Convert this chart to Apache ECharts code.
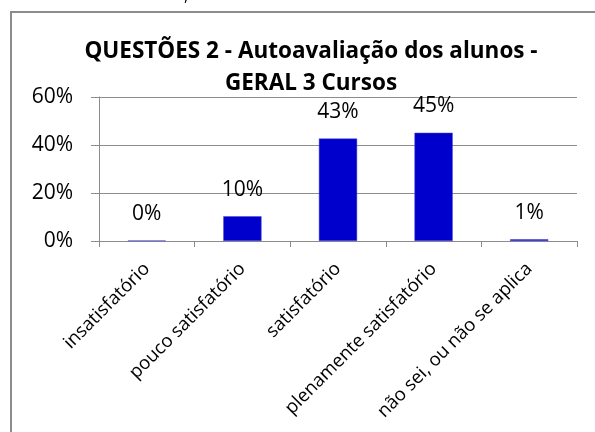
<!DOCTYPE html>
<html>
<head>
<meta charset="utf-8">
<script src="https://cdn.jsdelivr.net/npm/echarts@6/dist/echarts.min.js"></script>
<style>
  html, body { margin: 0; padding: 0; background: #fff; }
  #chart { width: 595px; height: 432px; }
</style>
</head>
<body>
<div id="chart"></div>
<script>
const categories = [
  'insatisfatório',
  'pouco satisfatório',
  'satisfatório',
  'plenamente satisfatório',
  'não sei, ou não se aplica',
]
const shares = [0.002, 0.103, 0.427, 0.451, 0.007]
const yTicks = [0, 0.2, 0.4, 0.6]

const FONT = '"Open Sans", "DejaVu Sans", sans-serif'
const GREY = '#8c8c8c'

const pct = (v) => Math.round(v * 100) + '%'

const chart = echarts.init(document.getElementById('chart'), null, { renderer: 'canvas' })

chart.setOption({
  backgroundColor: '#fff',
  animation: false,
  title: {
    text: 'QUESTÕES 2 - Autoavaliação dos alunos -\nGERAL 3 Cursos',
    left: 306,
    top: 31,
    textAlign: 'center',
    textStyle: {
      fontFamily: FONT,
      fontWeight: 'bold',
      fontSize: 22.5,
      lineHeight: 32,
      color: '#000',
    },
  },
  graphic: [
    {
      type: 'rect',
      shape: { x: 11, y: 12, width: 600, height: 440 },
      style: { fill: 'none', stroke: GREY, lineWidth: 2 },
      silent: true,
    },
    {
      type: 'text',
      left: 184,
      top: -12,
      style: { text: ',', fontSize: 16, fontFamily: FONT, fill: '#000' },
      silent: true,
    },
  ],
  grid: { left: 99, right: 18, top: 97, bottom: 191 },
  xAxis: {
    type: 'category',
    data: categories,
    axisLine: { lineStyle: { color: GREY, width: 1 } },
    axisTick: { show: true, length: 6, lineStyle: { color: GREY } },
    axisLabel: {
      rotate: 45,
      interval: 0,
      margin: 25,
      fontFamily: FONT,
      fontSize: 18.5,
      color: '#000',
    },
  },
  yAxis: {
    type: 'value',
    min: yTicks[0],
    max: yTicks[yTicks.length - 1],
    interval: yTicks[1] - yTicks[0],
    axisLine: { show: true, lineStyle: { color: GREY, width: 1 } },
    axisTick: { show: true, length: 8, inside: false, lineStyle: { color: GREY } },
    splitLine: { lineStyle: { color: GREY, width: 1 } },
    axisLabel: {
      margin: 26,
      fontFamily: FONT,
      fontSize: 21,
      color: '#000',
      formatter: pct,
    },
  },
  series: [
    {
      type: 'bar',
      data: shares,
      barWidth: '40%',
      itemStyle: { color: '#0000CC', borderColor: '#4a4adc', borderWidth: 0.5 },
      label: {
        show: true,
        position: 'top',
        distance: 16,
        fontFamily: FONT,
        fontSize: 21,
        color: '#000',
        formatter: (p) => pct(p.value),
      },
    },
  ],
})
</script>
</body>
</html>
